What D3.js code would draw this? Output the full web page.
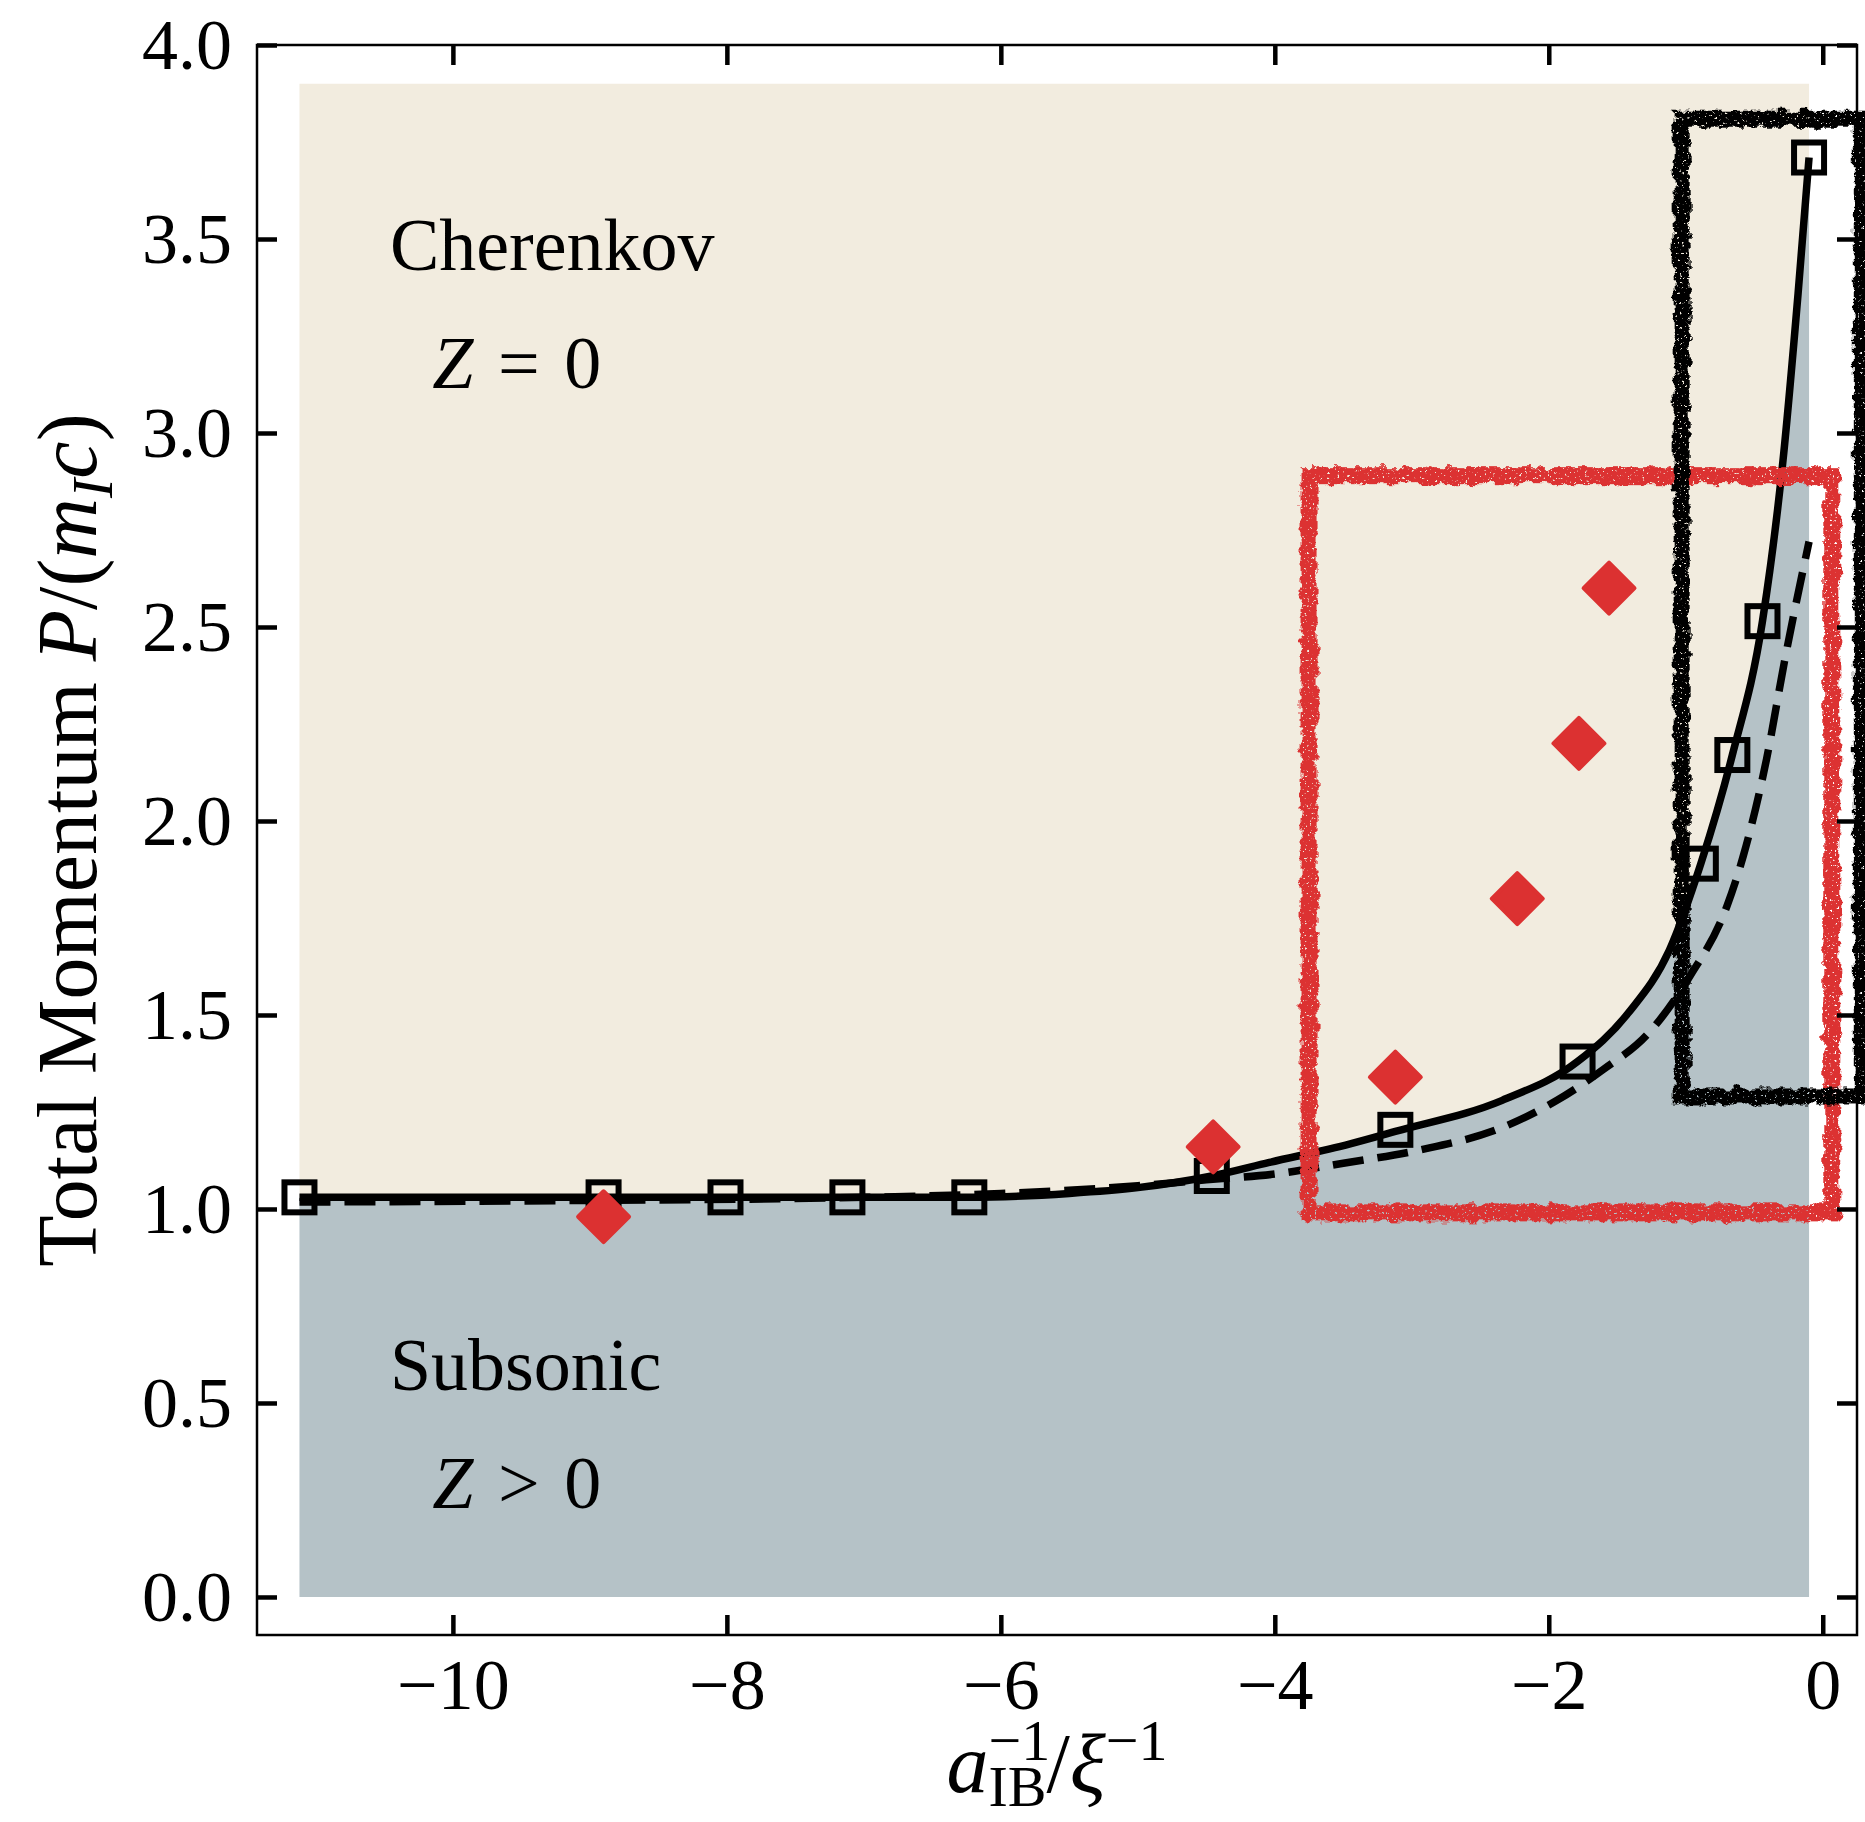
<!DOCTYPE html>
<html>
<head>
<meta charset="utf-8">
<script src="https://cdn.jsdelivr.net/npm/d3@7"></script>
<style>
  body { margin: 0; background: #fff; }
  svg { display: block; }
  text { font-family: "Liberation Serif", "DejaVu Serif", serif; }
</style>
</head>
<body>
<div id="chart"></div>
<script>
// values
var xTicks = [-10, -8, -6, -4, -2, 0];
var yTicks = [0, 0.5, 1, 1.5, 2, 2.5, 3, 3.5, 4];

// open squares
var squareX = [-11.12, -8.9, -8.01, -7.12, -6.23, -4.46, -3.12, -1.79, -0.89, -0.66, -0.44, -0.1];
var squareY = [1.03, 1.03, 1.03, 1.03, 1.03, 1.085, 1.204, 1.38, 1.89, 2.17, 2.515, 3.71];

// red diamonds
var diamondX = [-8.9, -4.45, -3.12, -2.23, -1.78, -1.56];
var diamondY = [0.98, 1.16, 1.34, 1.80, 2.20, 2.60];

// solid curve (also the boundary of the two shaded regions)
var solidX = [-11.12, -8.9, -8.01, -7.12, -6.23, -5.5, -5.0, -4.46, -4.04, -3.45, -3.12, -2.34, -1.79, -1.42, -1.12, -0.89, -0.66, -0.44, -0.29, -0.18, -0.1];
var solidY = [1.03, 1.03, 1.03, 1.03, 1.03, 1.04, 1.055, 1.085, 1.12, 1.168, 1.2, 1.28, 1.38, 1.505, 1.667, 1.89, 2.17, 2.515, 2.93, 3.36, 3.71];

// dashed curve
var dashX = [-11.12, -9, -7, -6, -5, -4.5, -4, -3.5, -2.94, -2.34, -1.94, -1.6, -1.28, -0.97, -0.7, -0.58, -0.41, -0.28, -0.1];
var dashY = [1.018, 1.022, 1.03, 1.04, 1.06, 1.075, 1.09, 1.118, 1.152, 1.21, 1.28, 1.36, 1.45, 1.60, 1.78, 1.91, 2.16, 2.41, 2.72];

var regionTop = 3.9;

// hand drawn boxes, data coordinates
var blackBoxX = [-1.03, 0.285];
var blackBoxY = [1.29, 3.81];
var redBoxX = [-3.75, 0.066];
var redBoxY = [0.99, 2.89];

var width = 1865;
var height = 1822;
var margin = {top: 45, right: 8, bottom: 187, left: 257};

var cream = "#f2ecdf";
var slate = "#b5c2c7";
var red = "#dc3131";

var svg = d3.select("#chart")
  .append("svg")
  .attr("width", width)
  .attr("height", height);

var x = d3.scaleLinear()
  .domain([-11.43, 0.25])
  .range([margin.left, width - margin.right]);

var y = d3.scaleLinear()
  .domain([-0.098, 4.0])
  .range([height - margin.bottom, margin.top]);

// rough pencil look for the boxes
var defs = svg.append("defs");
var f = defs.append("filter").attr("id", "rough")
  .attr("x", "-10%").attr("y", "-10%").attr("width", "120%").attr("height", "120%");
f.append("feTurbulence").attr("type", "fractalNoise").attr("baseFrequency", 0.09)
  .attr("numOctaves", 4).attr("seed", 4).attr("result", "noise");
f.append("feDisplacementMap").attr("in", "SourceGraphic").attr("in2", "noise")
  .attr("scale", 11).attr("xChannelSelector", "R").attr("yChannelSelector", "G").attr("result", "disp");
f.append("feTurbulence").attr("type", "fractalNoise").attr("baseFrequency", 0.4)
  .attr("numOctaves", 2).attr("seed", 11).attr("result", "fine");
f.append("feColorMatrix").attr("in", "fine").attr("type", "matrix")
  .attr("values", "0 0 0 0 0  0 0 0 0 0  0 0 0 0 0  -10 0 0 0 7.6").attr("result", "speck");
f.append("feComposite").attr("in", "disp").attr("in2", "speck").attr("operator", "in");

var pts = solidX.map(function(d, i) { return [d, solidY[i]]; });

// shaded regions
svg.append("path")
  .datum(pts)
  .attr("fill", cream)
  .attr("d", d3.area()
    .x(function(d) { return x(d[0]); })
    .y0(function(d) { return y(d[1]); })
    .y1(y(regionTop))
    .curve(d3.curveMonotoneX));

svg.append("path")
  .datum(pts)
  .attr("fill", slate)
  .attr("d", d3.area()
    .x(function(d) { return x(d[0]); })
    .y0(y(0))
    .y1(function(d) { return y(d[1]); })
    .curve(d3.curveMonotoneX));

// curves
var line = d3.line()
  .x(function(d) { return x(d[0]); })
  .y(function(d) { return y(d[1]); })
  .curve(d3.curveMonotoneX);

svg.append("path")
  .datum(dashX.map(function(d, i) { return [d, dashY[i]]; }))
  .attr("fill", "none")
  .attr("stroke", "#000")
  .attr("stroke-width", 7.5)
  .attr("stroke-dasharray", "31,14")
  .attr("d", line);

svg.append("path")
  .datum(pts)
  .attr("fill", "none")
  .attr("stroke", "#000")
  .attr("stroke-width", 7.5)
  .attr("stroke-linejoin", "round")
  .attr("d", line);

// markers
svg.selectAll(".sq")
  .data(squareX)
  .enter().append("rect")
  .attr("class", "sq")
  .attr("x", function(d) { return x(d) - 15; })
  .attr("y", function(d, i) { return y(squareY[i]) - 15; })
  .attr("width", 30)
  .attr("height", 30)
  .attr("fill", "none")
  .attr("stroke", "#000")
  .attr("stroke-width", 6);

svg.selectAll(".dia")
  .data(diamondX)
  .enter().append("path")
  .attr("class", "dia")
  .attr("transform", function(d, i) { return "translate(" + x(d) + "," + y(diamondY[i]) + ") rotate(45)"; })
  .attr("d", d3.symbol().type(d3.symbolSquare).size(36 * 36))
  .attr("fill", red)
  .attr("stroke", red)
  .attr("stroke-width", 4)
  .attr("stroke-linejoin", "round");

// sketch boxes
function box(bx, by, color, w) {
  svg.append("rect")
    .attr("x", x(bx[0]))
    .attr("y", y(by[1]))
    .attr("width", x(bx[1]) - x(bx[0]))
    .attr("height", y(by[0]) - y(by[1]))
    .attr("fill", "none")
    .attr("stroke", color)
    .attr("stroke-width", w)
    .attr("filter", "url(#rough)");
}
box(redBoxX, redBoxY, red, 17);
box(blackBoxX, blackBoxY, "#000", 16);

// axes, ticks pointing inward on all sides
var x0 = margin.left, x1 = width - margin.right;
var y0 = height - margin.bottom, y1 = margin.top;

function styleAxis(g) {
  g.select(".domain").remove();
  g.attr("font-family", "'Liberation Serif', serif").attr("font-size", 72);
  g.selectAll(".tick line").attr("stroke", "#000").attr("stroke-width", 4.5);
  g.selectAll(".tick text").attr("fill", "#000");
}

svg.append("g")
  .attr("transform", "translate(0," + y0 + ")")
  .call(d3.axisBottom(x).tickValues(xTicks).tickSize(-20).tickPadding(23).tickFormat(d3.format("d")))
  .call(styleAxis);

svg.append("g")
  .attr("transform", "translate(0," + y1 + ")")
  .call(d3.axisTop(x).tickValues(xTicks).tickSize(-20).tickFormat(""))
  .call(styleAxis);

svg.append("g")
  .attr("transform", "translate(" + x0 + ",0)")
  .call(d3.axisLeft(y).tickValues(yTicks).tickSize(-20).tickPadding(25).tickFormat(d3.format(".1f")))
  .call(styleAxis);

svg.append("g")
  .attr("transform", "translate(" + x1 + ",0)")
  .call(d3.axisRight(y).tickValues(yTicks).tickSize(-20).tickFormat(""))
  .call(styleAxis);

svg.append("rect")
  .attr("x", x0).attr("y", y1)
  .attr("width", x1 - x0).attr("height", y0 - y1)
  .attr("fill", "none")
  .attr("stroke", "#000")
  .attr("stroke-width", 2.5);

// text built from pieces, "back" stacks a script under the previous one
function richText(parent, pieces, size) {
  var t = parent.append("text").attr("font-size", size).attr("fill", "#000");
  var prevLen = 0;
  pieces.forEach(function(p) {
    var s = t.append("tspan").text(p.t);
    if (p.it) s.attr("font-style", "italic");
    if (p.size) s.attr("font-size", p.size);
    if (p.dy) s.attr("dy", p.dy);
    if (p.back) s.attr("dx", -prevLen);
    else if (p.dx) s.attr("dx", p.dx);
    prevLen = s.node().getComputedTextLength();
  });
  return t;
}

// region notes
var noteSize = 74;
richText(svg.append("g").attr("transform", "translate(" + x(-10.46) + "," + y(3.42) + ")"),
  [{t: "Cherenkov"}], noteSize);
richText(svg.append("g").attr("transform", "translate(" + x(-10.15) + "," + y(3.116) + ")"),
  [{t: "Z", it: true}, {t: " =", dx: 6}, {t: " 0", dx: 6}], noteSize);
richText(svg.append("g").attr("transform", "translate(" + x(-10.46) + "," + y(0.533) + ")"),
  [{t: "Subsonic"}], noteSize);
richText(svg.append("g").attr("transform", "translate(" + x(-10.15) + "," + y(0.229) + ")"),
  [{t: "Z", it: true}, {t: " >", dx: 6}, {t: " 0", dx: 6}], noteSize);

// x label
var xl = richText(svg.append("g").attr("transform", "translate(" + ((x0 + x1) / 2) + ",1792)"), [
  {t: "a", it: true},
  {t: "\u22121", size: 58, dy: -32},
  {t: "IB", size: 58, dy: 46, back: true},
  {t: "/", dy: -14},
  {t: "\u03be", it: true},
  {t: "\u22121", size: 58, dy: -32}
], 84);
xl.attr("text-anchor", "middle");

// y label
var yl = richText(svg.append("g").attr("transform", "translate(96," + ((y0 + y1) / 2) + ") rotate(-90)"), [
  {t: "Total Momentum "},
  {t: "P", it: true},
  {t: "/("},
  {t: "m", it: true},
  {t: "I", it: true, size: 58, dy: 16},
  {t: "c", it: true, dy: -16},
  {t: ")"}
], 84);
yl.attr("text-anchor", "middle");
</script>
</body>
</html>
